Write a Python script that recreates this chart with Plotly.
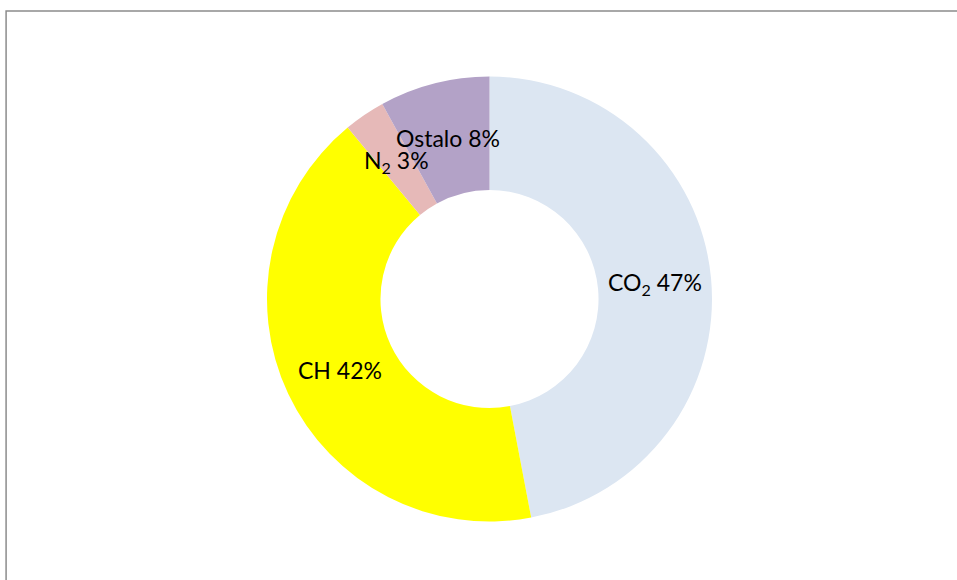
import math
import plotly.graph_objects as go

labels = ["CO2", "CH", "N2", "Ostalo"]
label_text = ["CO<sub>2</sub> 47%", "CH 42%", "N<sub>2</sub> 3%", "Ostalo 8%"]
values = [47, 42, 3, 8]
colors = ["#DCE6F2", "#FFFF00", "#E6B9B8", "#B3A2C7"]

W, H = 957, 580
cx, cy, R = 489.5, 299.0, 223.0
hole = 0.49

l = cx - R
t = cy - R
b = H - (cy + R)
r = W - (cx + R)

fig = go.Figure(go.Pie(
    labels=labels,
    values=values,
    marker=dict(colors=colors, line=dict(width=0)),
    hole=hole,
    sort=False,
    direction="clockwise",
    rotation=0,
    textinfo="none",
    hoverinfo="label+percent",
    showlegend=False,
))

total = sum(values)
cum = 0.0
rm = (hole + 1) / 2 * R
for txt, v in zip(label_text, values):
    mid = (cum + v / 2) / total * 2 * math.pi
    cum += v
    px = cx + rm * math.sin(mid)
    py = cy - rm * math.cos(mid)
    fig.add_annotation(
        x=(px - l) / (2 * R), y=1 - (py - t) / (2 * R),
        xref="paper", yref="paper", text=txt, showarrow=False,
        font=dict(family="Lato", size=23, color="#000000"),
        xanchor="center", yanchor="middle",
    )

# outer chart border
fig.add_shape(
    type="rect", xref="paper", yref="paper",
    x0=(5 - l) / (2 * R), y0=1 - (H + 20 - t) / (2 * R),
    x1=(W + 20 - l) / (2 * R), y1=1 - (11 - t) / (2 * R),
    line=dict(color="#8c8c8c", width=1.5), fillcolor="rgba(0,0,0,0)",
)

fig.update_layout(
    width=W, height=H,
    margin=dict(l=l, r=r, t=t, b=b, pad=0),
    paper_bgcolor="white", plot_bgcolor="white",
)

fig.write_html(
    "out.html",
    config={"displayModeBar": False},
    post_script="document.body.style.margin='0';document.body.style.overflow='hidden';",
)
